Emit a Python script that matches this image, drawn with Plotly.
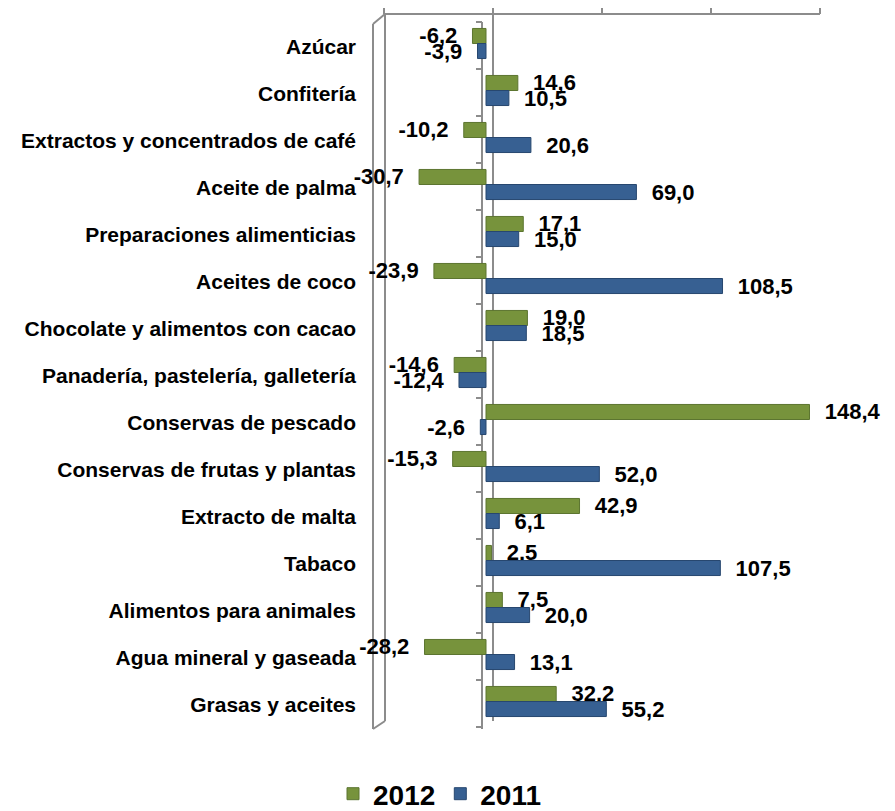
import plotly.graph_objects as go

categories = [
    "Azúcar", "Confitería", "Extractos y concentrados de café", "Aceite de palma",
    "Preparaciones alimenticias", "Aceites de coco", "Chocolate y alimentos con cacao",
    "Panadería, pastelería, galletería", "Conservas de pescado",
    "Conservas de frutas y plantas", "Extracto de malta", "Tabaco",
    "Alimentos para animales", "Agua mineral y gaseada", "Grasas y aceites",
]
values_2012 = [-6.2, 14.6, -10.2, -30.7, 17.1, -23.9, 19.0, -14.6, 148.4, -15.3, 42.9, 2.5, 7.5, -28.2, 32.2]
values_2011 = [-3.9, 10.5, 20.6, 69.0, 15.0, 108.5, 18.5, -12.4, -2.6, 52.0, 6.1, 107.5, 20.0, 13.1, 55.2]
series_names = ["2012", "2011"]
x_range = [-50, 150]
x_ticks = [-50, 0, 50, 100, 150]

# page has an 8px body margin; work in page pixels and convert
OFF = 8
W, H = 895 - OFF, 811 - OFF
L, R, T, B = 377, 813, 20, 725  # page pixels of plot area

def fx(px):
    return (px - L) / (R - L)

def fy(py):
    return (B - py) / (B - T)

NB = "\u00a0"

def label(v):
    s = f"{v:.1f}".replace(".", ",")
    return NB * 2 + s if v >= 0 else s + NB * 2

font_fam = "Liberation Sans, Arial, sans-serif"

fig = go.Figure()
colors = [("#77933C", "#5C7530"), ("#376092", "#27476F")]
for name, vals, (c, lc) in zip(series_names, [values_2012, values_2011], colors):
    fig.add_trace(go.Bar(
        y=categories, x=vals, name=name, orientation="h",
        marker=dict(color=c, line=dict(color=lc, width=1)),
        text=[label(v) for v in vals], textposition="outside",
        textfont=dict(family=font_fam, size=22, color="black", weight="bold"),
        cliponaxis=False, constraintext="none",
    ))

gray = "#8C8C8C"
shapes = []
def line(x0, y0, x1, y1):
    shapes.append(dict(type="line", xref="paper", yref="paper",
                       x0=fx(x0), y0=fy(y0), x1=fx(x1), y1=fy(y1),
                       line=dict(color=gray, width=2), layer="below"))

zero_front = 486
scale = (R - L) / (x_range[1] - x_range[0])
dx = 7
# back plane top axis
line(zero_front + dx + x_range[0] * scale, T - 6, zero_front + dx + x_range[1] * scale, T - 6)
for t in x_ticks:
    xp = zero_front + dx + t * scale
    line(xp, T - 14, xp, T - 6)
# left wall
line(L - 4, T + 4, L - 4, B + 4)
line(L + 8, T - 6, L + 8, B - 4)
line(L - 4, T + 4, L + 8, T - 6)
line(L - 4, B + 4, L + 8, B - 4)
# back zero line
line(zero_front + dx, T - 6, zero_front + dx, B - 4)
# front category axis with ticks
line(zero_front - 4, T + 2, zero_front - 4, B + 4)
n = len(categories)
for k in range(n + 1):
    yp = T + k * (B - T) / n + 2
    line(zero_front - 10, yp, zero_front - 4, yp)

fig.update_layout(
    width=W, height=H,
    margin=dict(l=L - OFF, r=895 - R, t=T - OFF, b=811 - B, autoexpand=False),
    plot_bgcolor="white", paper_bgcolor="white",
    barmode="group", bargap=0.36, bargroupgap=0,
    shapes=shapes,
    showlegend=True,
    legend=dict(orientation="h", x=fx(440), xanchor="center", y=fy(794), yanchor="middle",
                font=dict(family=font_fam, size=28, color="black", weight="bold"),
                traceorder="normal"),
    xaxis=dict(range=x_range, showticklabels=False, showgrid=False, zeroline=False,
               showline=False, ticks="", automargin=False),
    yaxis=dict(type="category", autorange="reversed", showgrid=False, showline=False,
               ticks="", ticklabelstandoff=20, ticklabelshift=-3, automargin=False,
               tickfont=dict(family=font_fam, size=21, color="black", weight="bold")),
)

fig.write_html("out.html")
